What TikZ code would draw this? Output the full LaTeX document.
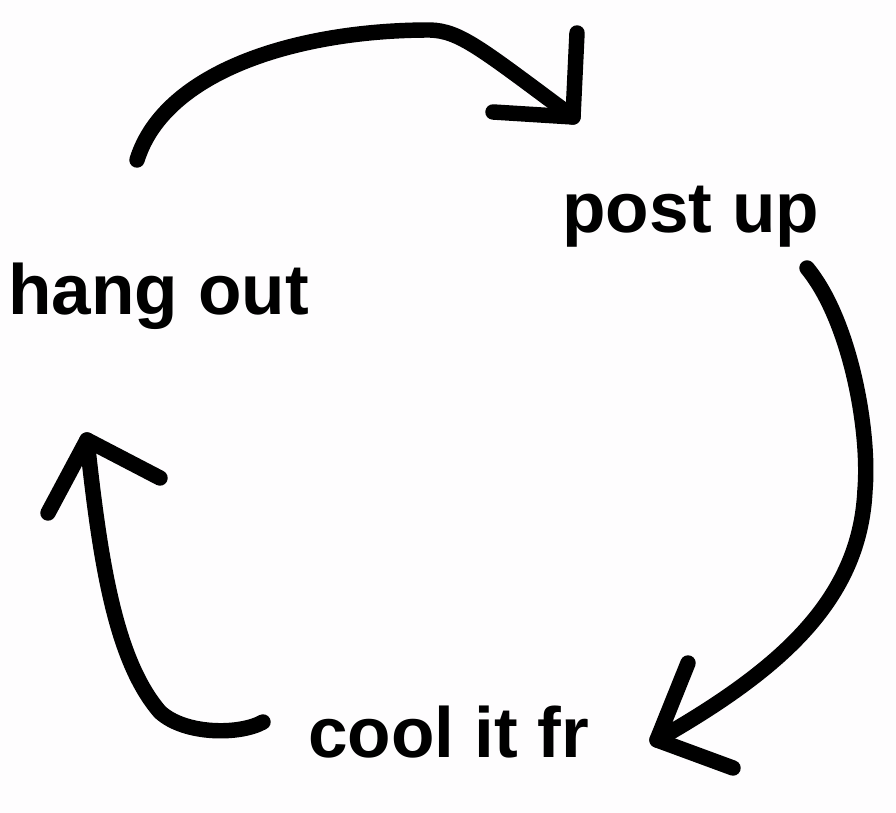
\documentclass[tikz,border=0pt]{standalone}
\usepackage{fontspec}
\setmainfont{Liberation Sans}
\usepackage{tikz}
\usetikzlibrary{calc}
\definecolor{paper}{RGB}{254,253,254}

\begin{document}
\begin{tikzpicture}[x=0.02cm,y=-0.02cm,
	stroke/.style={line width=8.8pt,line cap=round,line join=round},
	word/.style={anchor=base west,inner sep=0pt,font=\fontsize{40.5}{48}\selectfont\bfseries}]
			\fill[paper] (0,0) rectangle (896,813);
			\useasboundingbox (0,0) rectangle (896,813);
			\node[word] (hang) at (8,315) {hang out};
			\node[word] (post) at (562,233) {post up};
			\node[word] (cool) at (308,758) {cool it fr};
			% ends of the strokes
			\coordinate (a1) at (137,160); \coordinate (t1) at (573,117);
			\coordinate (a2) at (807,268); \coordinate (t2) at (657,740);
			\coordinate (a3) at (263,722); \coordinate (t3) at (87,440);
			\draw[stroke] (a1) .. controls (165,70) and (300,30) .. (430,30) .. controls (460,31) and (480,48) .. (t1);
			\draw[stroke] (t1) -- (577,33) (t1) -- (493,112);
			\draw[stroke] (a2) .. controls (850,320) and (870,430) .. (865,490) .. controls (860,600) and (780,670) .. (t2);
			\draw[stroke] (t2) -- (688,663) (t2) -- (733,768);
			\draw[stroke] (a3) .. controls (240,735) and (185,735) .. (160,712) .. controls (115,660) and (100,560) .. (t3);
			\draw[stroke] (t3) -- (48,513) (t3) -- (160,478);
			\end{tikzpicture}
\end{document}
